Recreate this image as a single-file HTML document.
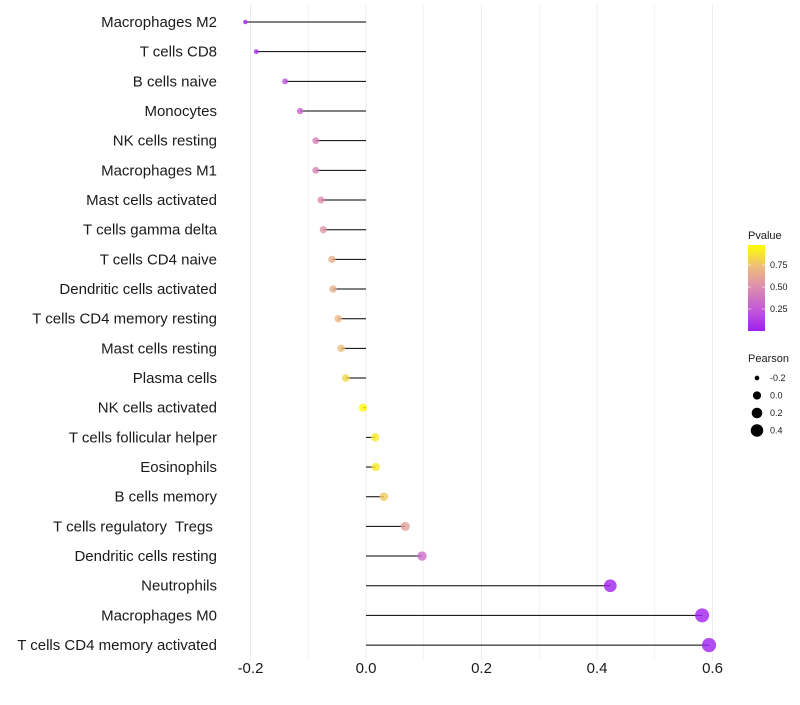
<!DOCTYPE html>
<html><head><meta charset="utf-8"><style>
body{margin:0;background:#fff;font-family:"Liberation Sans",sans-serif}
svg text{font-family:"Liberation Sans",sans-serif;white-space:pre}
</style></head><body>
<svg id="chart" width="800" height="700">
<defs><linearGradient id="pg" x1="0" y1="1" x2="0" y2="0">
<stop offset="0" stop-color="#a020f0"/><stop offset="0.25" stop-color="#c25ad6"/><stop offset="0.5" stop-color="#db8cb0"/><stop offset="0.75" stop-color="#eebd7c"/><stop offset="1" stop-color="#ffff00"/></linearGradient></defs>
<g id="grid"></g><g id="marks"></g><g id="labels"></g><g id="legend"></g>
</svg>
<script>
const categories=["Macrophages M2","T cells CD8","B cells naive","Monocytes","NK cells resting","Macrophages M1","Mast cells activated","T cells gamma delta","T cells CD4 naive","Dendritic cells activated","T cells CD4 memory resting","Mast cells resting","Plasma cells","NK cells activated","T cells follicular helper","Eosinophils","B cells memory","T cells regulatory  Tregs ","Dendritic cells resting","Neutrophils","Macrophages M0","T cells CD4 memory activated"];
const pearson=[-0.209,-0.19,-0.14,-0.114,-0.087,-0.087,-0.078,-0.074,-0.059,-0.057,-0.048,-0.043,-0.035,-0.005,0.016,0.017,0.031,0.068,0.097,0.423,0.582,0.594];
const pvalues=[0.02,0.05,0.22,0.3,0.45,0.45,0.5,0.55,0.68,0.68,0.72,0.75,0.85,0.98,0.92,0.92,0.8,0.6,0.35,0.01,0.0,0.0];
const xTicks=[-0.2,0.0,0.2,0.4,0.6];
const xTickLabels=["-0.2","0.0","0.2","0.4","0.6"];
const legendP=[0.25,0.5,0.75];
const legendSizes=[-0.2,0.0,0.2,0.4];
const NS="http://www.w3.org/2000/svg";
const X=v=>366+v*577.5;
const Y=i=>22+i*29.67;
const R=v=>Math.sqrt(Math.max(1,5+56*(v+0.21)));
const stops=[[0,[160,32,240]],[0.25,[194,90,214]],[0.5,[219,140,176]],[0.75,[238,189,124]],[1,[255,255,0]]];
function col(p){for(let i=1;i<stops.length;i++){if(p<=stops[i][0]){const a=stops[i-1],b=stops[i],t=(p-a[0])/(b[0]-a[0]);return "rgb("+a[1].map((c,k)=>Math.round(c+(b[1][k]-c)*t)).join(",")+")";}}return "rgb(255,255,0)";}
function mk(tag,attrs,parent){const e=document.createElementNS(NS,tag);for(const k in attrs)e.setAttribute(k,attrs[k]);document.getElementById(parent).appendChild(e);return e;}
for(let v=-0.2;v<=0.61;v+=0.1){const g=mk("line",{x1:X(v),x2:X(v),y1:5,y2:660,stroke:"#ebebeb","stroke-width":Math.abs(Math.round(v*10))%2===0?1:0.6},"grid");

}
categories.forEach((c,i)=>{
const y=Y(i);
const s=mk("line",{x1:X(0),x2:X(pearson[i]),y1:y,y2:y,stroke:"#000","stroke-width":1},"marks");


const d=mk("circle",{cx:X(pearson[i]),cy:y,r:R(pearson[i]),fill:col(pvalues[i]),"fill-opacity":0.8},"marks");


const t=mk("text",{x:217,y:y+5,"text-anchor":"end","font-size":15,fill:"#1a1a1a"},"labels");t.textContent=c;


});
xTicks.forEach((v,i)=>{const t=mk("text",{x:X(v),y:673,"text-anchor":"middle","font-size":15,fill:"#1a1a1a"},"labels");t.textContent=xTickLabels[i];

});
let e=mk("text",{x:748,y:239,"font-size":11,fill:"#1a1a1a"},"legend");e.textContent="Pvalue";


e=mk("rect",{x:748,y:245,width:17,height:86,fill:"url(#pg)"},"legend");


legendP.forEach(p=>{const y=331-p*88;
const t=mk("text",{x:770,y:y+3,"font-size":9,fill:"#1a1a1a"},"legend");t.textContent=p.toFixed(2);


mk("line",{x1:748,x2:751,y1:y,y2:y,stroke:"#fff","stroke-width":0.6},"legend");mk("line",{x1:762,x2:765,y1:y,y2:y,stroke:"#fff","stroke-width":0.6},"legend");});
e=mk("text",{x:748,y:362,"font-size":11,fill:"#1a1a1a"},"legend");e.textContent="Pearson";


legendSizes.forEach((v,i)=>{const y=378+i*17.5;
const c=mk("circle",{cx:757,cy:y,r:R(v),fill:"#000"},"legend");


const t=mk("text",{x:770,y:y+3,"font-size":9,fill:"#1a1a1a"},"legend");t.textContent=v.toFixed(1);

});
</script>
</body></html>
